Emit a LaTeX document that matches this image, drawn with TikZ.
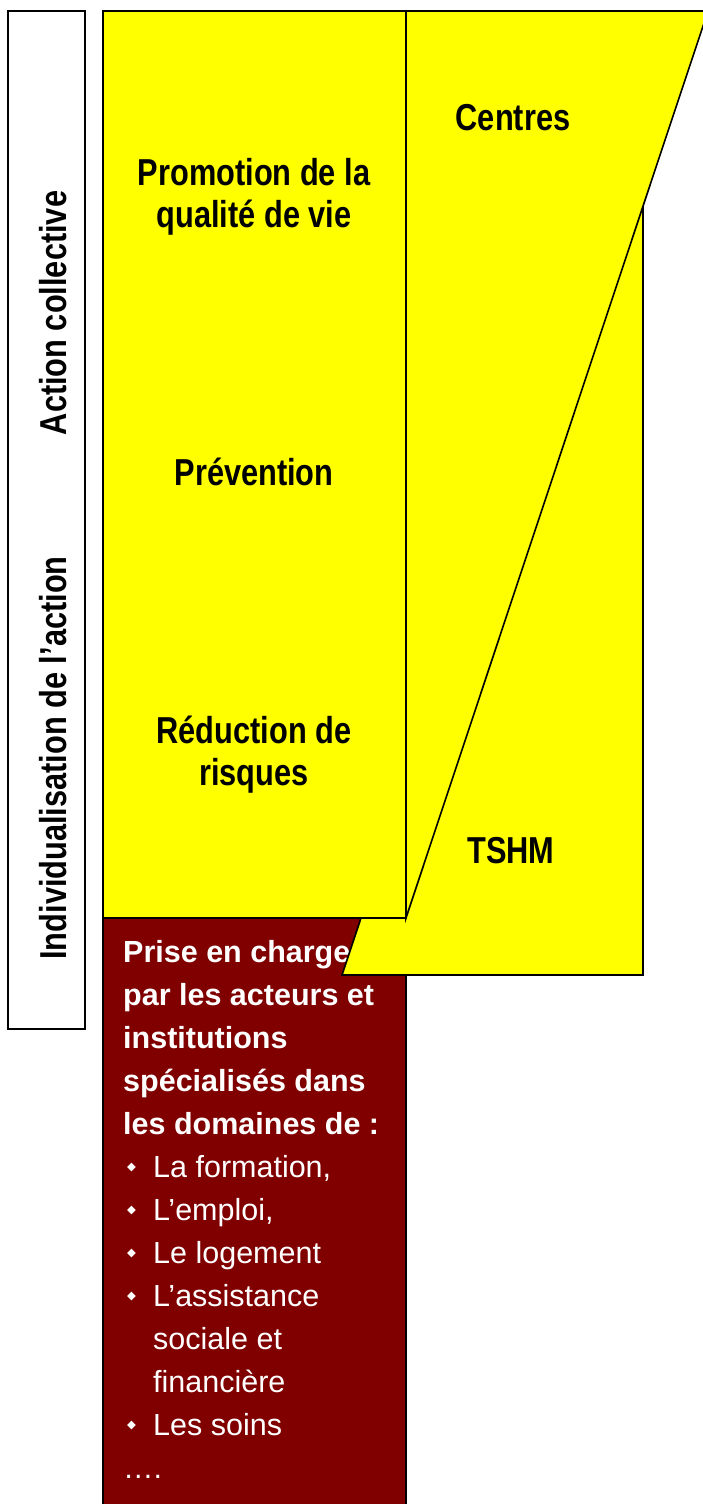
\documentclass[tikz,border=0pt]{standalone}
\usepackage{fontspec}
\setmainfont{Liberation Sans}
\newfontfamily\etroite[FakeStretch=0.82]{Liberation Sans}
\newfontfamily\puces{DejaVu Sans}

\definecolor{jaune}{HTML}{FFFF00}
\definecolor{bordeaux}{HTML}{800000}

\tikzset{
  cadre/.style={draw=black, line width=1.6pt},
  titre/.style={font=\etroite\bfseries\fontsize{37.5}{42}\selectfont, align=center, inner sep=0pt},
  liste/.style={font=\fontsize{30.5}{43}\selectfont, text=white, align=left, inner sep=0pt}
}
\newcommand{\puce}{\makebox[30pt][l]{\hspace*{4pt}\raisebox{6.5pt}{\puces\fontsize{11.5}{11.5}\selectfont ◆}}}
\newcommand{\retrait}{\hspace*{30pt}}

\begin{document}
\begin{tikzpicture}[x=1pt,y=-1pt]
\useasboundingbox (0,0) rectangle (702,1504);

% axis box on the left
\draw [cadre, fill=white] (8,11) rectangle (85,1029);
\node [titre, rotate=90, anchor=base] (collective) at (66,313) {Action collective};
\node [titre, rotate=90, anchor=base] (individu) at (66,758) {Individualisation de l’action};

% the brown block (drawn first, the yellow cuts into it)
% base = last line, so the "...." line is placed
\draw [cadre, fill=bordeaux] (103,918) rectangle (406,1512);
\node [liste, anchor=base west] (prise) at (123,1478) {%
\textbf{Prise en charge}\\
\textbf{par les acteurs et}\\
\textbf{institutions}\\
\textbf{spécialisés dans}\\
\textbf{les domaines de :}\\
\puce La formation,\\
\puce L’emploi,\\
\puce Le logement\\
\puce L’assistance\\
\retrait sociale et\\
\retrait financière\\
\puce Les soins\\
….};

% TSHM block, partly under the others
\draw [cadre, fill=jaune] (342,975) -- (643,975) -- (643,11) -- (663,11) -- cycle;
\node [titre, anchor=base] (tshm) at (511,863) {TSHM};

% Centres, slanted edge
\draw [cadre, fill=jaune] (406,11) -- (708,11) -- (406,918) -- cycle;
\node [titre, anchor=base] (centres) at (513,130) {Centres};

% main yellow column
\draw [cadre, fill=jaune] (103,11) rectangle (406,918);
\node [titre, anchor=base] (promotion) at (254,227) {Promotion de la\\qualité de vie};
\node [titre, anchor=base] (prevention) at (254,485) {Prévention};
\node [titre, anchor=base] (reduction) at (254,785) {Réduction de\\risques};

\end{tikzpicture}
\end{document}
